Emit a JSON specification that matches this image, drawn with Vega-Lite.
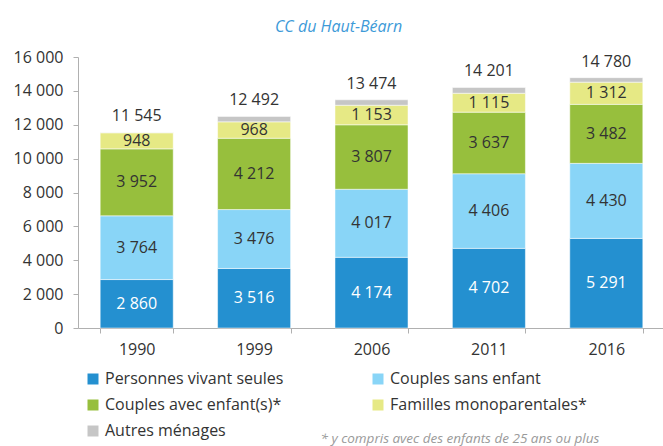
{
  "$schema": "https://vega.github.io/schema/vega-lite/v6.json",
  "width": 587,
  "height": 271,
  "autosize": {"type": "none"},
  "padding": {"left": 78, "top": 57, "right": 0, "bottom": 118},
  "title": {
    "text": "CC du Haut-Béarn",
    "font": "Open Sans",
    "fontStyle": "italic",
    "fontWeight": "normal",
    "fontSize": 16,
    "color": "#3d9ad8",
    "offset": 14,
    "dx": -33
  },
  "config": {
    "view": {"stroke": null},
    "font": "Open Sans",
    "locale": {
      "number": {"decimal": ",", "thousands": " ", "grouping": [3], "currency": ["", " €"]}
    },
    "axisY": {
      "grid": false,
      "title": null,
      "labelFontSize": 16,
      "labelColor": "#333333",
      "labelPadding": 10,
      "labelOverlap": false,
      "tickSize": 5,
      "tickColor": "#b0b0b0",
      "domainColor": "#b0b0b0",
      "format": ",d"
    }
  },
  "data": {
    "values": [
      {"annee": "1990", "type": "Personnes vivant seules", "valeur": 2860},
      {"annee": "1990", "type": "Couples sans enfant", "valeur": 3764},
      {"annee": "1990", "type": "Couples avec enfant(s)*", "valeur": 3952},
      {"annee": "1990", "type": "Familles monoparentales*", "valeur": 948},
      {"annee": "1990", "type": "Autres ménages", "valeur": 21},
      {"annee": "1999", "type": "Personnes vivant seules", "valeur": 3516},
      {"annee": "1999", "type": "Couples sans enfant", "valeur": 3476},
      {"annee": "1999", "type": "Couples avec enfant(s)*", "valeur": 4212},
      {"annee": "1999", "type": "Familles monoparentales*", "valeur": 968},
      {"annee": "1999", "type": "Autres ménages", "valeur": 320},
      {"annee": "2006", "type": "Personnes vivant seules", "valeur": 4174},
      {"annee": "2006", "type": "Couples sans enfant", "valeur": 4017},
      {"annee": "2006", "type": "Couples avec enfant(s)*", "valeur": 3807},
      {"annee": "2006", "type": "Familles monoparentales*", "valeur": 1153},
      {"annee": "2006", "type": "Autres ménages", "valeur": 323},
      {"annee": "2011", "type": "Personnes vivant seules", "valeur": 4702},
      {"annee": "2011", "type": "Couples sans enfant", "valeur": 4406},
      {"annee": "2011", "type": "Couples avec enfant(s)*", "valeur": 3637},
      {"annee": "2011", "type": "Familles monoparentales*", "valeur": 1115},
      {"annee": "2011", "type": "Autres ménages", "valeur": 341},
      {"annee": "2016", "type": "Personnes vivant seules", "valeur": 5291},
      {"annee": "2016", "type": "Couples sans enfant", "valeur": 4430},
      {"annee": "2016", "type": "Couples avec enfant(s)*", "valeur": 3482},
      {"annee": "2016", "type": "Familles monoparentales*", "valeur": 1312},
      {"annee": "2016", "type": "Autres ménages", "valeur": 265}
    ]
  },
  "transform": [
    {"calculate": "indexof(['Personnes vivant seules', 'Couples sans enfant', 'Couples avec enfant(s)*', 'Familles monoparentales*', 'Autres ménages'], datum.type)", "as": "rang"}
  ],
  "encoding": {
    "x": {
      "field": "annee",
      "type": "ordinal",
      "scale": {"paddingInner": 0.378, "paddingOuter": 0.189},
      "axis": {
        "labelAngle": 0,
        "labelFontSize": 16,
        "labelColor": "#333333",
        "labelPadding": 8,
        "tickBand": "extent",
        "tickSize": 5,
        "tickColor": "#b0b0b0",
        "domainColor": "#b0b0b0",
        "title": "* y compris avec des enfants de 25 ans ou plus",
        "titleFont": "Open Sans",
        "titleFontStyle": "italic",
        "titleFontWeight": "normal",
        "titleFontSize": 13.5,
        "titleColor": "#9a9a9a",
        "titleAlign": "left",
        "titleBaseline": "middle",
        "titleX": 242,
        "titleY": 110
      }
    }
  },
  "layer": [
    {
      "mark": {"type": "bar", "stroke": "white", "strokeWidth": 0.5},
      "encoding": {
        "y": {
          "field": "valeur",
          "type": "quantitative",
          "stack": "zero",
          "scale": {"domain": [0, 16000]},
          "axis": {"values": [0, 2000, 4000, 6000, 8000, 10000, 12000, 14000, 16000]}
        },
        "color": {
          "field": "type",
          "type": "nominal",
          "sort": ["Personnes vivant seules", "Couples sans enfant", "Couples avec enfant(s)*", "Familles monoparentales*", "Autres ménages"],
          "scale": {
            "domain": ["Personnes vivant seules", "Couples sans enfant", "Couples avec enfant(s)*", "Familles monoparentales*", "Autres ménages"],
            "range": ["#2490d0", "#89d5f7", "#97bf3d", "#e6e985", "#c6c6c6"]
          },
          "legend": {
            "title": null,
            "orient": "none",
            "legendX": 7,
            "legendY": 314,
            "direction": "horizontal",
            "columns": 2,
            "columnPadding": 86,
            "rowPadding": 10,
            "symbolType": "square",
            "symbolSize": 121,
            "symbolStrokeWidth": 0,
            "symbolOffset": 0,
            "labelFontSize": 16,
            "labelColor": "#333333",
            "labelOffset": 4,
            "labelLimit": 400
          }
        },
        "order": {"field": "rang", "type": "quantitative"}
      }
    },
    {
      "transform": [{"filter": "datum.type !== 'Autres ménages'"}],
      "mark": {"type": "text", "fontSize": 16, "baseline": "middle"},
      "encoding": {
        "y": {
          "field": "valeur",
          "type": "quantitative",
          "stack": "zero",
          "bandPosition": 0.5,
          "axis": {"values": [0, 2000, 4000, 6000, 8000, 10000, 12000, 14000, 16000]}
        },
        "detail": {"field": "type"},
        "order": {"field": "rang", "type": "quantitative"},
        "text": {"field": "valeur", "type": "quantitative", "format": ",d"},
        "color": {
          "condition": {"test": "datum.type === 'Personnes vivant seules'", "value": "white"},
          "value": "#333333"
        }
      }
    },
    {
      "mark": {"type": "text", "fontSize": 16, "baseline": "middle", "dy": -16, "color": "#333333"},
      "encoding": {
        "y": {
          "aggregate": "sum",
          "field": "valeur",
          "type": "quantitative",
          "axis": {"values": [0, 2000, 4000, 6000, 8000, 10000, 12000, 14000, 16000]}
        },
        "text": {"aggregate": "sum", "field": "valeur", "type": "quantitative", "format": ",d"}
      }
    }
  ]
}
